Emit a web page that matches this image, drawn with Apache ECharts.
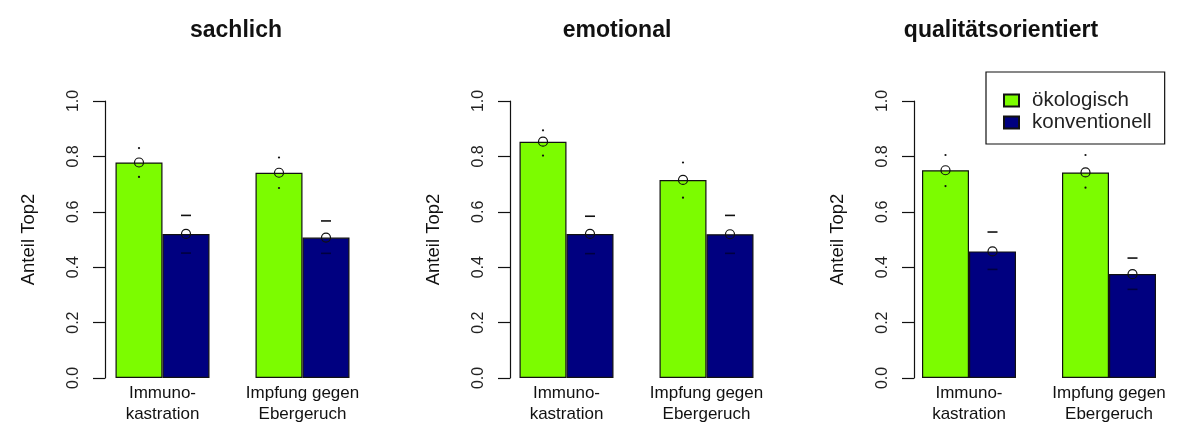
<!DOCTYPE html>
<html>
<head>
<meta charset="utf-8">
<script src="https://cdn.jsdelivr.net/npm/echarts@6/dist/echarts.min.js"></script>
<style>
  html, body { margin: 0; padding: 0; background: #fff; }
  #chart { width: 1182px; height: 428px; }
</style>
</head>
<body>
<div id="chart"></div>
<script>
// Daten
const panelTitles = ["sachlich", "emotional", "qualitätsorientiert"];
const categories = ["Immuno-\nkastration", "Impfung gegen\nEbergeruch"];
const seriesNames = ["ökologisch", "konventionell"];
const yTicks = [0, 0.2, 0.4, 0.6, 0.8, 1.0];

// Mittelwerte je Panel (Immunokastration, Impfung)
const oekoMean = [[0.778, 0.741], [0.853, 0.715], [0.750, 0.742]];
const konvMean = [[0.520, 0.507], [0.520, 0.519], [0.457, 0.375]];
// Fehlerbalken
const oekoLow = [[0.726, 0.686], [0.803, 0.651], [0.693, 0.687]];
const oekoHigh = [[0.830, 0.796], [0.894, 0.778], [0.805, 0.805]];
const konvLow = [[0.451, 0.450], [0.449, 0.450], [0.392, 0.320]];
const konvHigh = [[0.587, 0.567], [0.584, 0.587], [0.527, 0.433]];

const colors = ["#7CFC00", "#000080"];
const font = "'Liberation Sans', Arial, sans-serif";

// Layout je Panel
const gridLeft = [92.5, 496.5, 899];
const axisShift = [-12.5, -13.5, -15];
const titleX = [231, 612, 996];
const barW = 47;

const chart = echarts.init(document.getElementById("chart"));

const grids = [], xAxes = [], yAxes = [], titles = [], series = [];

//Fehlerbalken zeichnen
function errSeries(p, means, lows, highs, sign, isGreen) {
  const data = means[p].map((m, i) => [i, m, lows[p][i], highs[p][i]]);
  return {
    type: "custom",
    xAxisIndex: p,
    yAxisIndex: p,
    z: 5,
    silent: true,
    data: data,
    encode: { x: 0, y: 1 },
    renderItem: function (params, api) {
      const c = api.coord([api.value(0), api.value(1)]);
      const x = c[0] + sign * barW / 2;
      const yLo = api.coord([api.value(0), api.value(2)])[1];
      const yHi = api.coord([api.value(0), api.value(3)])[1];
      const children = [
        { type: "circle", shape: { cx: x, cy: c[1], r: 4.5 },
          style: { fill: "none", stroke: "#111", lineWidth: 1.2 } }
      ];
      if (isGreen) {
        children.push({ type: "circle", shape: { cx: x, cy: yHi, r: 1.1 }, style: { fill: "#111" } });
        children.push({ type: "circle", shape: { cx: x, cy: yLo, r: 1.1 }, style: { fill: "#111" } });
      } else {
        children.push({ type: "line", shape: { x1: x - 5, y1: yHi, x2: x + 5, y2: yHi },
          style: { stroke: "#111", lineWidth: 1.6 } });
        children.push({ type: "line", shape: { x1: x - 5, y1: yLo, x2: x + 5, y2: yLo },
          style: { stroke: "#000040", lineWidth: 1.6 } });
      }
      return { type: "group", children: children };
    }
  };
}

for (let p = 0; p < 3; p++) {
  grids.push({ left: gridLeft[p], top: 101, width: 280, height: 277 });
  titles.push({
    text: panelTitles[p],
    left: titleX[p],
    top: 14,
    textAlign: "center",
    textStyle: { fontFamily: font, fontSize: 23, fontWeight: "bold", color: "#111" }
  });
  xAxes.push({
    type: "category",
    gridIndex: p,
    data: categories,
    axisLine: { show: false },
    axisTick: { show: false },
    axisLabel: { interval: 0, margin: 5, fontFamily: font, fontSize: 17, color: "#111", lineHeight: 21 }
  });
  yAxes.push({
    type: "value",
    gridIndex: p,
    min: 0,
    max: 1,
    interval: 0.2,
    offset: axisShift[p],
    name: "Anteil Top2",
    nameLocation: "middle",
    nameGap: 67,
    nameRotate: 90,
    nameTextStyle: { fontFamily: font, fontSize: 18.5, color: "#111" },
    splitLine: { show: false },
    axisLine: { show: true, lineStyle: { color: "#111", width: 1.2 } },
    axisTick: { show: true, length: 12, lineStyle: { color: "#111", width: 1.2 } },
    axisLabel: {
      rotate: 90, margin: 23, fontFamily: font, fontSize: 16, color: "#222",
      formatter: v => v.toFixed(1)
    }
  });
  series.push({
    name: seriesNames[0], type: "bar", xAxisIndex: p, yAxisIndex: p,
    data: oekoMean[p], barWidth: barW, barGap: "0%",
    itemStyle: { color: colors[0], borderColor: "#111", borderWidth: 1.2 }
  });
  series.push({
    name: seriesNames[1], type: "bar", xAxisIndex: p, yAxisIndex: p,
    data: konvMean[p], barWidth: barW, barGap: "0%",
    itemStyle: { color: colors[1], borderColor: "#111", borderWidth: 1.2 }
  });
  series.push(errSeries(p, oekoMean, oekoLow, oekoHigh, -1, true));
  series.push(errSeries(p, konvMean, konvLow, konvHigh, 1, false));
}

chart.setOption({
  animation: false,
  backgroundColor: "#fff",
  title: titles,
  legend: {
    data: seriesNames,
    orient: "vertical",
    left: 986,
    top: 72,
    padding: [18, 13, 11, 17],
    itemGap: 1,
    itemWidth: 15,
    itemHeight: 12,
    icon: "rect",
    borderColor: "#111",
    borderWidth: 1.2,
    textStyle: { fontFamily: font, fontSize: 20.5, color: "#222", padding: [0, 0, 0, 8] },
    selectedMode: false
  },
  grid: grids,
  xAxis: xAxes,
  yAxis: yAxes,
  series: series
});
</script>
</body>
</html>
